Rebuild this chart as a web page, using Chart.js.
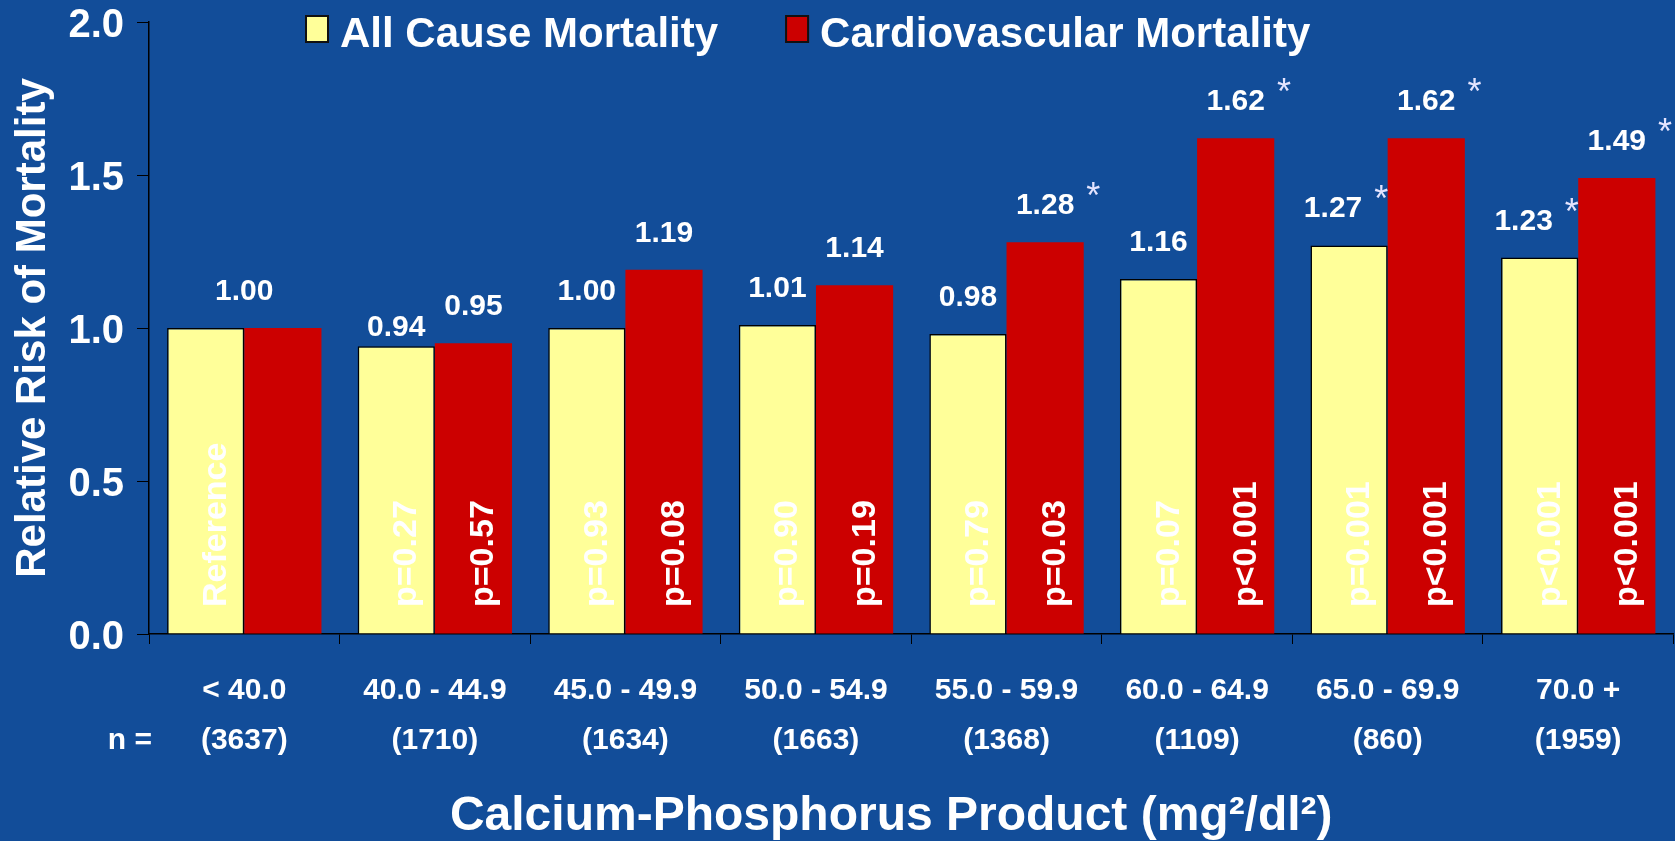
<!DOCTYPE html>
<html lang="en">
<head>
<meta charset="UTF-8">
<title>Calcium-Phosphorus Product and Mortality</title>
<style>
  html, body { margin: 0; padding: 0; background: #124d99; }
  canvas { display: block; }
</style>
</head>
<body>
<canvas id="chart" width="1675" height="841"></canvas>
<script src="https://cdn.jsdelivr.net/npm/chart.js@4.4.0/dist/chart.umd.min.js"></script>
<script>
// ---- data ----
const ranges = ['< 40.0', '40.0 - 44.9', '45.0 - 49.9', '50.0 - 54.9', '55.0 - 59.9', '60.0 - 64.9', '65.0 - 69.9', '70.0 +'];
const counts = ['(3637)', '(1710)', '(1634)', '(1663)', '(1368)', '(1109)', '(860)', '(1959)'];
const allCause = [1.00, 0.94, 1.00, 1.01, 0.98, 1.16, 1.27, 1.23];
const cardio = [1.00, 0.95, 1.19, 1.14, 1.28, 1.62, 1.62, 1.49];
const allCauseP = ['Reference', 'p=0.27', 'p=0.93', 'p=0.90', 'p=0.79', 'p=0.07', 'p=0.001', 'p<0.001'];
const cardioP = ['', 'p=0.57', 'p=0.08', 'p=0.19', 'p=0.03', 'p<0.001', 'p<0.001', 'p<0.001'];
const allCauseSig = [0, 0, 0, 0, 0, 0, 1, 1];
const cardioSig = [0, 0, 0, 0, 1, 1, 1, 1];
const yTicks = [0.0, 0.5, 1.0, 1.5, 2.0];

const FONT = "'Liberation Sans', Arial, Helvetica, sans-serif";
Chart.defaults.font.family = FONT;
Chart.defaults.color = '#ffffff';

// slide background
const background = {
  id: 'background',
  beforeDraw(chart) {
    const ctx = chart.ctx;
    ctx.save();
    ctx.fillStyle = '#124d99';
    ctx.fillRect(0, 0, chart.width, chart.height);
    ctx.restore();
  }
};

// values over bars, asterisks, p-values inside bars
const barLabels = {
  id: 'barLabels',
  afterDatasetsDraw(chart, args, opts) {
    const ctx = chart.ctx;
    const bottom = chart.chartArea.bottom;
    const metas = [chart.getDatasetMeta(0), chart.getDatasetMeta(1)];
    const vals = [allCause, cardio];
    const pTexts = [allCauseP, cardioP];
    const sigs = [allCauseSig, cardioSig];
    ctx.save();
    ctx.fillStyle = '#ffffff';

    ctx.font = 'bold 34px ' + FONT;
    ctx.textAlign = 'left';
    ctx.textBaseline = 'alphabetic';
    metas.forEach((meta, d) => meta.data.forEach((bar, i) => {
      const t = pTexts[d][i];
      if (!t) return;
      ctx.save();
      ctx.translate(bar.x + 20, bottom - 27);
      ctx.rotate(-Math.PI / 2);
      ctx.fillText(t, 0, 0);
      ctx.restore();
    }));

    const ref = allCauseP.indexOf('Reference');
    metas.forEach((meta, d) => meta.data.forEach((bar, i) => {
      let x = bar.x;
      let y = bar.y - 28;
      if (i === ref) {
        if (d === 0) return;
        const other = metas[0].data[i];
        x = (other.x + bar.x) / 2;
        y = Math.min(bar.y, other.y) - 28;
      }
      if (d === 0 && sigs[d][i]) x -= 16;
      y += opts.nudge[d + '-' + i] || 0;
      const txt = vals[d][i].toFixed(2);
      ctx.font = 'bold 30px ' + FONT;
      ctx.textAlign = 'center';
      ctx.fillStyle = '#ffffff';
      ctx.fillText(txt, x, y);
      if (sigs[d][i]) {
        const w = ctx.measureText(txt).width;
        ctx.font = '36px ' + FONT;
        ctx.textAlign = 'left';
        ctx.fillStyle = '#e4e4ff';
        ctx.fillText('*', x + w / 2 + 12, y - 6);
      }
    }));
    ctx.restore();
  }
};

// legend sits inside the plot, so draw it by hand
const topLegend = {
  id: 'topLegend',
  afterDraw(chart) {
    const ctx = chart.ctx;
    let x = chart.chartArea.left + 156;
    const top = 15;
    ctx.save();
    chart.data.datasets.forEach(ds => {
      ctx.fillStyle = ds.backgroundColor;
      ctx.fillRect(x, top, 24, 28);
      ctx.strokeStyle = '#111111';
      ctx.lineWidth = 2;
      ctx.strokeRect(x + 1, top + 1, 22, 26);
      ctx.font = 'bold 42px ' + FONT;
      ctx.fillStyle = '#ffffff';
      ctx.textAlign = 'left';
      ctx.textBaseline = 'alphabetic';
      ctx.fillText(ds.label, x + 35, top + 32);
      x += 35 + ctx.measureText(ds.label).width + 67;
    });
    ctx.restore();
  }
};

// "n =" row label and the axis title
const bottomText = {
  id: 'bottomText',
  afterDraw(chart) {
    const ctx = chart.ctx;
    const xs = chart.scales.x;
    const area = chart.chartArea;
    ctx.save();
    ctx.fillStyle = '#ffffff';
    ctx.font = 'bold 30px ' + FONT;
    ctx.textAlign = 'right';
    ctx.textBaseline = 'middle';
    ctx.fillText('n =', area.left + 3, xs.top + 32 + 50 * 1.5);

    ctx.font = 'bold 48px ' + FONT;
    ctx.textAlign = 'center';
    ctx.textBaseline = 'alphabetic';
    ctx.fillText('Calcium-Phosphorus Product (mg\u00B2/dl\u00B2)', (area.left + area.right) / 2 - 20, chart.height - 11);
    ctx.restore();
  }
};

const ctx = document.getElementById('chart').getContext('2d');
new Chart(ctx, {
  type: 'bar',
  data: {
    labels: ranges.map((r, i) => [r, counts[i]]),
    datasets: [
      {
        label: 'All Cause Mortality',
        data: allCause,
        backgroundColor: '#ffff99',
        borderColor: '#000000',
        borderWidth: 1.5,
        borderSkipped: 'bottom'
      },
      {
        label: 'Cardiovascular Mortality',
        data: cardio,
        backgroundColor: '#cc0000',
        borderWidth: 0
      }
    ]
  },
  options: {
    responsive: false,
    animation: false,
    devicePixelRatio: 1,
    categoryPercentage: 0.81,
    barPercentage: 1.0,
    layout: { padding: { top: 22, right: 1.5, bottom: 0, left: 0 } },
    plugins: {
      legend: { display: false },
      tooltip: { enabled: false },
      barLabels: { nudge: { '0-1': 18 } }
    },
    scales: {
      x: {
        grid: { drawOnChartArea: false, drawTicks: true, tickLength: 10, color: '#000000', offset: true },
        border: { display: true, color: '#000000', width: 1.5 },
        ticks: {
          color: '#ffffff',
          font: { size: 30, weight: 'bold', lineHeight: 1.667 },
          padding: 22,
          maxRotation: 0,
          autoSkip: false
        },
        afterFit(scale) { scale.height = 207; }
      },
      y: {
        min: yTicks[0],
        max: yTicks[yTicks.length - 1],
        grid: { drawOnChartArea: false, drawTicks: true, tickLength: 12, color: '#000000' },
        border: { display: true, color: '#000000', width: 1.5 },
        ticks: {
          stepSize: yTicks[1] - yTicks[0],
          color: '#ffffff',
          font: { size: 40, weight: 'bold', lineHeight: 0.4 },
          padding: 13,
          labelOffset: 4,
          callback: v => Number(v).toFixed(1)
        },
        title: {
          display: true,
          text: 'Relative Risk of Mortality',
          color: '#ffffff',
          font: { size: 42, weight: 'bold' },
          padding: { top: 8, bottom: 0 }
        },
        afterFit(scale) { scale.width = 149; }
      }
    }
  },
  plugins: [background, barLabels, topLegend, bottomText]
});
</script>
</body>
</html>
